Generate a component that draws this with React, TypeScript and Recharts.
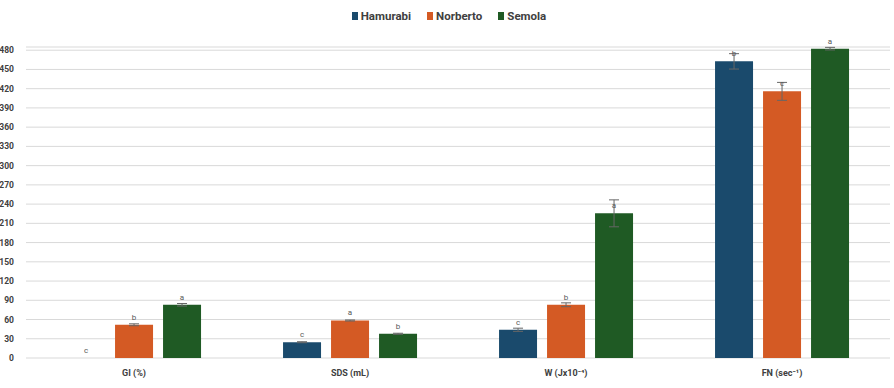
import React from "react";
import { BarChart, Bar, XAxis, YAxis, CartesianGrid, ErrorBar } from "recharts";

const categories = ["GI (%)", "SDS (mL)", "W (Jx10⁻⁴)", "FN (sec⁻¹)"];

const hamurabi = [0, 24.6, 44, 462.6];
const hamurabiErr = [0, 0.8, 2.5, 12];
const hamurabiLetters = ["c", "c", "c", "b"];

const norberto = [51.8, 58.5, 83, 415.8];
const norbertoErr = [1.5, 0.8, 3, 14];
const norbertoLetters = ["b", "a", "b", "c"];

const semola = [83, 37.8, 225.6, 482.4];
const semolaErr = [2, 0.8, 21, 2];
const semolaLetters = ["a", "b", "a", "a"];

const yTicks = [0, 30, 60, 90, 120, 150, 180, 210, 240, 270, 300, 330, 360, 390, 420, 450, 480];

const series = [
  { key: "Hamurabi", color: "#1a4a6c", letters: hamurabiLetters },
  { key: "Norberto", color: "#d45a24", letters: norbertoLetters },
  { key: "Semola", color: "#1f5a24", letters: semolaLetters },
];

const data = categories.map((name, i) => ({
  name,
  Hamurabi: hamurabi[i],
  HamurabiErr: hamurabiErr[i],
  Norberto: norberto[i],
  NorbertoErr: norbertoErr[i],
  Semola: semola[i],
  SemolaErr: semolaErr[i],
}));

const font = "Roboto, 'Noto Sans', sans-serif";

// letter above each bar
function letterLabel(letters: string[]) {
  return (props: any) => {
    const { x, y, width, index } = props;
    return (
      <text
        x={x + width / 2}
        y={y - 5}
        textAnchor="middle"
        fontSize={8}
        fill="#595959"
        fontFamily={font}
      >
        {letters[index]}
      </text>
    );
  };
}

export default function App() {
  return (
    <div style={{ position: "relative", width: 894, height: 388, background: "#fff", fontFamily: font }}>
      <style>{"body{margin:0}"}</style>
      <div
        style={{
          position: "absolute",
          top: 9,
          left: 0,
          width: 894,
          display: "flex",
          justifyContent: "center",
          gap: 16,
          fontSize: 11.5,
          fontWeight: 700,
          color: "#404040",
          lineHeight: "14px",
          paddingLeft: 2,
        }}
      >
        {series.map((s) => (
          <span key={s.key} style={{ display: "flex", alignItems: "center", gap: 3 }}>
            <span style={{ width: 6, height: 8, background: s.color, display: "inline-block" }} />
            {s.key}
          </span>
        ))}
      </div>
      <BarChart
        width={894}
        height={388}
        data={data}
        margin={{ top: 47, right: 4, left: 0, bottom: 0 }}
        barGap={10}
        barCategoryGap="19%"
      >
        <CartesianGrid vertical={false} stroke="#d9d9d9" strokeWidth={1} />
        <XAxis
          dataKey="name"
          axisLine={false}
          tickLine={false}
          height={30}
          tickMargin={6}
          tick={{ fontSize: 9, fontWeight: 700, fill: "#404040", fontFamily: font }}
        />
        <YAxis
          domain={[0, 485]}
          ticks={yTicks}
          axisLine={false}
          tickLine={false}
          width={26}
          tickMargin={6}
          interval={0}
          tick={{ fontSize: 8.5, fontWeight: 700, fill: "#404040", fontFamily: font }}
        />
        {series.map((s) => (
          <Bar
            key={s.key}
            dataKey={s.key}
            fill={s.color}
            minPointSize={0.05}
            isAnimationActive={false}
            label={letterLabel(s.letters)}
          >
            <ErrorBar dataKey={s.key + "Err"} width={5} stroke="#666" strokeWidth={1} direction="y" />
          </Bar>
        ))}
      </BarChart>
    </div>
  );
}
